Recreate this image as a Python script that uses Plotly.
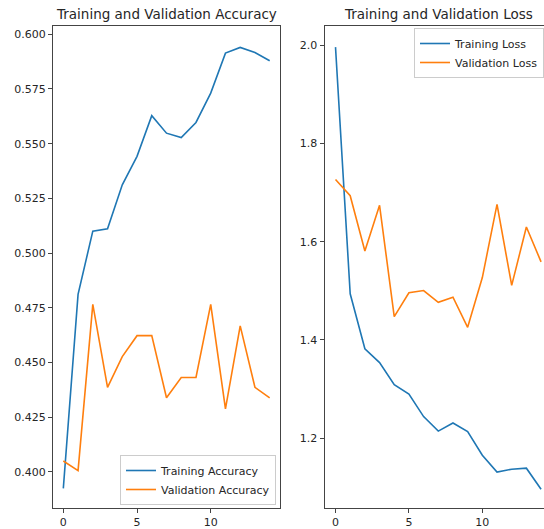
import plotly.graph_objects as go

epochs = list(range(15))
train_acc = [0.3924, 0.4811, 0.5100, 0.5111, 0.5312, 0.5442, 0.5628, 0.5548,
             0.5528, 0.5597, 0.5731, 0.5914, 0.5940, 0.5917, 0.5879]
val_acc = [0.4049, 0.4005, 0.4765, 0.4386, 0.4526, 0.4622, 0.4622, 0.4338,
           0.4431, 0.4431, 0.4765, 0.4287, 0.4667, 0.4386, 0.4338]
train_loss = [1.996, 1.494, 1.382, 1.354, 1.309, 1.290, 1.244, 1.2145,
              1.231, 1.2137, 1.1655, 1.131, 1.137, 1.139, 1.096]
val_loss = [1.7266, 1.6936, 1.581, 1.674, 1.4475, 1.496, 1.5005, 1.4767,
            1.487, 1.4257, 1.527, 1.676, 1.511, 1.630, 1.559]

acc_ticks = [0.400, 0.425, 0.450, 0.475, 0.500, 0.525, 0.550, 0.575, 0.600]
loss_ticks = [1.2, 1.4, 1.6, 1.8, 2.0]
x_ticks = [0, 5, 10]

titles = ["Training and Validation Accuracy", "Training and Validation Loss"]

BLUE = "#1f77b4"
ORANGE = "#ff7f0e"
FONT = "DejaVu Sans"
TXT = "#262626"
LINE = "#444444"

W, H = 544, 529
fig = go.Figure()

fig.add_trace(go.Scatter(x=epochs, y=train_acc, mode="lines", name="Training Accuracy",
                         line=dict(color=BLUE, width=1.6), xaxis="x", yaxis="y", legend="legend"))
fig.add_trace(go.Scatter(x=epochs, y=val_acc, mode="lines", name="Validation Accuracy",
                         line=dict(color=ORANGE, width=1.6), xaxis="x", yaxis="y", legend="legend"))
fig.add_trace(go.Scatter(x=epochs, y=train_loss, mode="lines", name="Training Loss",
                         line=dict(color=BLUE, width=1.6), xaxis="x2", yaxis="y2", legend="legend2"))
fig.add_trace(go.Scatter(x=epochs, y=val_loss, mode="lines", name="Validation Loss",
                         line=dict(color=ORANGE, width=1.6), xaxis="x2", yaxis="y2", legend="legend2"))

ax_common = dict(showgrid=False, zeroline=False, showline=True, linecolor=LINE, linewidth=1,
                 ticks="outside", ticklen=4, tickwidth=1, tickcolor=LINE,
                 tickfont=dict(family=FONT, size=11, color=TXT))

ydom = [(H - 508) / H, (H - 26) / H]
fig.update_layout(
    width=W, height=H,
    margin=dict(l=0, r=0, t=0, b=0),
    paper_bgcolor="white", plot_bgcolor="white",
    font=dict(family=FONT, color=TXT),
    xaxis=dict(domain=[53 / W, 280 / W], range=[-0.7, 14.7], tickvals=x_ticks,
               mirror=True, anchor="y", **ax_common),
    yaxis=dict(domain=ydom, range=[0.3834, 0.6038], tickvals=acc_ticks, tickformat=".3f",
               mirror=True, anchor="x", **ax_common),
    xaxis2=dict(domain=[324.5 / W, 1.0], range=[-0.75, 14.2], tickvals=x_ticks,
                mirror=True, anchor="y2", **ax_common),
    yaxis2=dict(domain=ydom, range=[1.058, 2.039], tickvals=loss_ticks, tickformat=".1f",
                mirror=False, anchor="x2", **ax_common),
    legend=dict(x=276 / W, y=(H - 505) / H, xanchor="right", yanchor="bottom",
                bgcolor="rgba(255,255,255,0.8)", bordercolor="#cccccc", borderwidth=1,
                font=dict(family=FONT, size=11, color=TXT), itemwidth=30, tracegroupgap=0),
    legend2=dict(x=1.0, y=(H - 28) / H, xanchor="right", yanchor="top",
                 bgcolor="rgba(255,255,255,0.8)", bordercolor="#cccccc", borderwidth=1,
                 font=dict(family=FONT, size=11, color=TXT), itemwidth=30, tracegroupgap=0),
    showlegend=True,
)

fig.add_annotation(text=titles[0], x=(53 + 280) / 2 / W, y=(H - 14) / H, xref="paper", yref="paper",
                   showarrow=False, xanchor="center", yanchor="middle",
                   font=dict(family=FONT, size=13.5, color=TXT))
fig.add_annotation(text=titles[1], x=438 / W, y=(H - 14) / H, xref="paper", yref="paper",
                   showarrow=False, xanchor="center", yanchor="middle",
                   font=dict(family=FONT, size=13.5, color=TXT))

fig.write_html("out.html", config={"displayModeBar": False},
               post_script="document.body.style.margin='0px';document.body.style.overflow='hidden';")
